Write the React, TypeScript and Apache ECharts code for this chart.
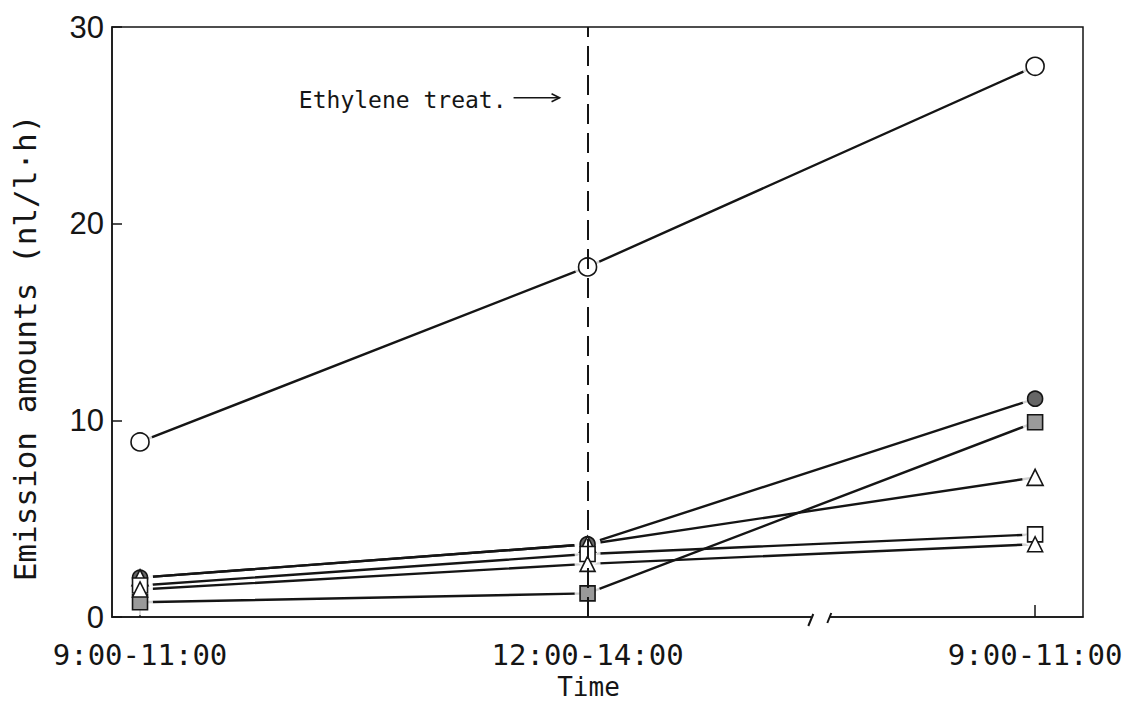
import { useEffect, useRef } from 'react';
import * as echarts from 'echarts';

// Sampling periods along the time axis (value positions 0, 1, 2)
const timeLabels = ['9:00-11:00', '12:00-14:00', '9:00-11:00'];
const timePositions = [0, 1, 2];

// Emission amounts (nl/l·h) per compound at each period
const openCircleValues = [8.9, 17.8, 28.0];
const greyCircleValues = [2.0, 3.7, 11.1];
const openTriangleAValues = [2.0, 3.7, 7.1];
const openSquareValues = [1.6, 3.2, 4.2];
const openTriangleBValues = [1.4, 2.7, 3.7];
const greySquareValues = [0.75, 1.2, 9.9];

const yTicks = [0, 10, 20, 30];
const treatmentAt = 1;
const treatmentLabel = 'Ethylene treat.';
const breakAt = 1.52;

const INK = '#151515';
const MONO = '"DejaVu Sans Mono", "Liberation Mono", monospace';

type Group = {
  name: string;
  values: number[];
  symbol: string;
  size: number;
  fill: string;
};

const groups: Group[] = [
  { name: 'A', values: openCircleValues, symbol: 'circle', size: 18, fill: '#ffffff' },
  { name: 'B', values: greyCircleValues, symbol: 'circle', size: 15, fill: '#666666' },
  { name: 'C', values: greySquareValues, symbol: 'rect', size: 15, fill: '#9a9a9a' },
  { name: 'D', values: openTriangleAValues, symbol: 'triangle', size: 16, fill: '#ffffff' },
  { name: 'E', values: openSquareValues, symbol: 'rect', size: 15, fill: '#ffffff' },
  { name: 'F', values: openTriangleBValues, symbol: 'triangle', size: 15, fill: '#ffffff' },
];

const toPoints = (vals: number[]) => vals.map((v, i) => [timePositions[i], v]);

export default function App() {
  const ref = useRef<HTMLDivElement>(null);

  useEffect(() => {
    if (!ref.current) return;
    const chart = echarts.init(ref.current, undefined, { renderer: 'svg' });

    const lineSeries = groups.map((g, idx) => ({
      type: 'line',
      name: g.name,
      data: toPoints(g.values),
      showSymbol: false,
      silent: true,
      z: 2,
      lineStyle: { color: INK, width: 2.4 },
      ...(idx === 0
        ? {
            markLine: {
              silent: true,
              symbol: 'none',
              label: { show: false },
              lineStyle: { color: INK, width: 2, type: [20, 9] },
              data: [{ xAxis: treatmentAt }],
            },
          }
        : {}),
    }));

    // white discs that leave a small gap between each line and its marker
    const haloSeries = groups.map((g) => ({
      type: 'scatter',
      data: toPoints(g.values),
      symbol: 'circle',
      symbolSize: 26,
      silent: true,
      z: 3,
      itemStyle: { color: '#ffffff', borderWidth: 0 },
    }));

    const markerSeries = groups.map((g) => ({
      type: 'scatter',
      name: g.name,
      data: toPoints(g.values),
      symbol: g.symbol,
      symbolSize: g.size,
      silent: true,
      z: 4,
      itemStyle: { color: g.fill, borderColor: INK, borderWidth: 1.6, opacity: 1 },
    }));

    chart.setOption({
      animation: false,
      backgroundColor: '#ffffff',
      grid: {
        left: 112,
        right: 47,
        top: 27,
        bottom: 88,
        containLabel: false,
        outerBoundsMode: 'none',
        show: true,
        borderColor: INK,
        borderWidth: 1.5,
        backgroundColor: 'transparent',
      },
      xAxis: {
        type: 'value',
        min: -0.0626,
        max: 2.107,
        name: 'Time',
        nameLocation: 'middle',
        nameGap: 56,
        nameTextStyle: { fontFamily: MONO, fontSize: 26, color: INK, padding: [0, 18, 0, 0] },
        axisLine: { show: true, onZero: false, lineStyle: { color: INK, width: 1.5 } },
        axisTick: {
          show: true,
          inside: true,
          length: 12,
          customValues: timePositions,
          lineStyle: { color: INK, width: 1.5 },
        },
        axisLabel: {
          customValues: timePositions,
          margin: 23,
          fontFamily: MONO,
          fontSize: 29,
          color: INK,
          formatter: (v: number) => timeLabels[timePositions.indexOf(Math.round(v))] ?? '',
        },
        splitLine: { show: false },
      },
      yAxis: {
        type: 'value',
        min: yTicks[0],
        max: yTicks[yTicks.length - 1],
        interval: 10,
        name: 'Emission amounts (nl/l·h)',
        nameLocation: 'middle',
        nameGap: 72,
        nameRotate: 90,
        nameTextStyle: { fontFamily: MONO, fontSize: 31, color: INK, padding: [0, 52, 0, 0] },
        axisLine: { show: true, onZero: false, lineStyle: { color: INK, width: 1.5 } },
        axisTick: { show: true, inside: true, length: 10, lineStyle: { color: INK, width: 1.5 } },
        axisLabel: {
          margin: 8,
          fontFamily: '"Liberation Sans", Arial, sans-serif',
          fontSize: 31,
          color: INK,
        },
        splitLine: { show: false },
      },
      series: [...lineSeries, ...haloSeries, ...markerSeries],
    });

    // Axis break on the time axis and the treatment annotation
    const [bx, by] = chart.convertToPixel({ gridIndex: 0 }, [breakAt, 0]) as number[];
    const [ax, ay] = chart.convertToPixel({ gridIndex: 0 }, [treatmentAt, 26.3]) as number[];

    chart.setOption({
      graphic: [
        {
          type: 'rect',
          z: 100,
          shape: { x: bx - 9, y: by - 3, width: 18, height: 6 },
          style: { fill: '#ffffff' },
        },
        {
          type: 'line',
          z: 101,
          shape: { x1: bx - 12, y1: by + 9, x2: bx - 7, y2: by - 3 },
          style: { stroke: INK, lineWidth: 2 },
        },
        {
          type: 'line',
          z: 101,
          shape: { x1: bx + 7, y1: by + 6, x2: bx + 11, y2: by - 4 },
          style: { stroke: INK, lineWidth: 2 },
        },
        {
          type: 'text',
          z: 101,
          x: ax - 81,
          y: ay,
          style: {
            text: treatmentLabel,
            font: `23px ${MONO}`,
            fill: INK,
            align: 'right',
            verticalAlign: 'middle',
          },
        },
        {
          type: 'line',
          z: 101,
          shape: { x1: ax - 74, y1: ay - 2, x2: ax - 28, y2: ay - 2 },
          style: { stroke: INK, lineWidth: 1.6 },
        },
        {
          type: 'polyline',
          z: 101,
          shape: { points: [[ax - 36, ay - 6], [ax - 28, ay - 2], [ax - 36, ay + 2]] },
          style: { stroke: INK, lineWidth: 1.6, fill: 'none' },
        },
      ],
    });

    return () => chart.dispose();
  }, []);

  return (
    <div
      ref={ref}
      style={{ position: 'fixed', left: 0, top: 0, width: 1130, height: 705, background: '#ffffff' }}
    />
  );
}
